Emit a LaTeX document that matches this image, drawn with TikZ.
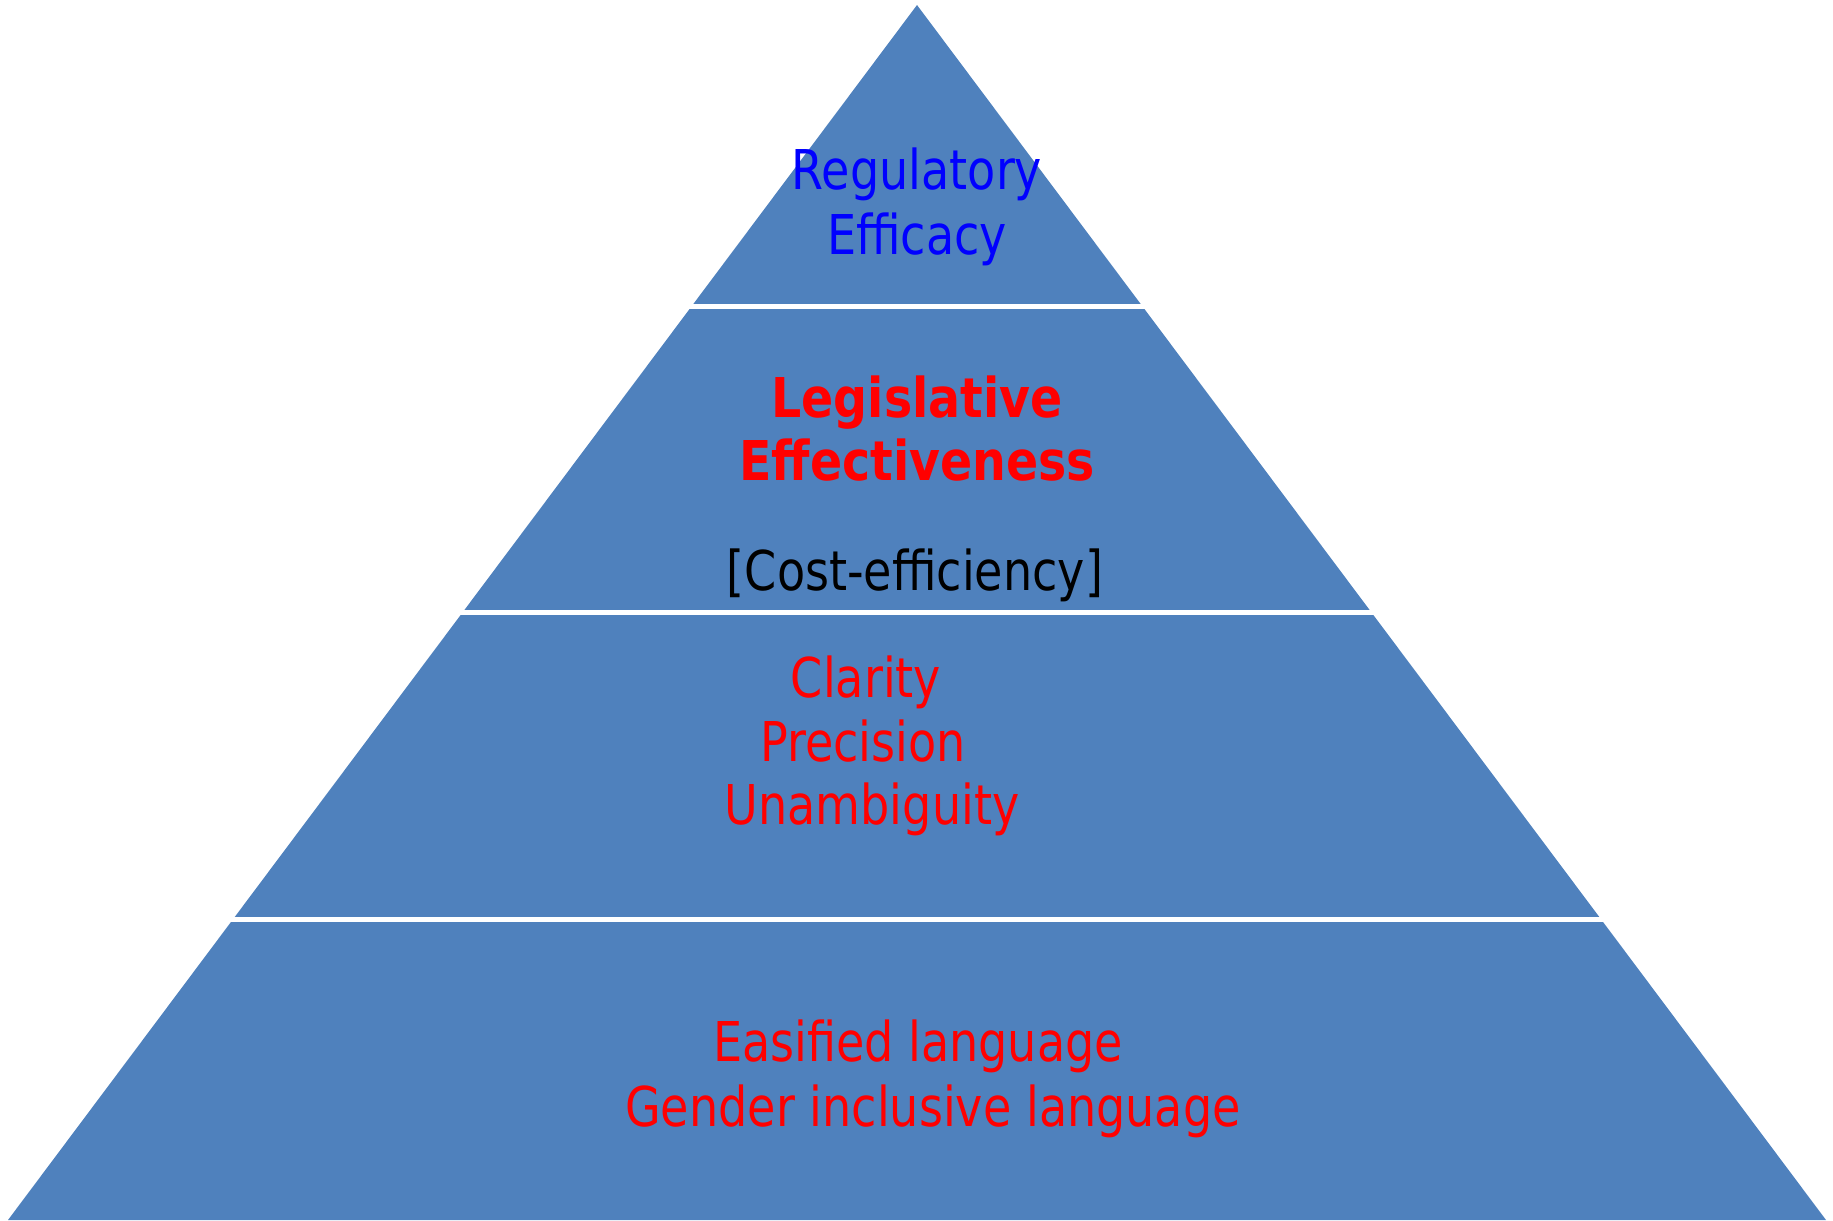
\documentclass[tikz,border=0pt]{standalone}
\usepackage{fontspec}
\setmainfont{DejaVu Sans}[FakeStretch=0.84, BoldFeatures={FakeStretch=0.865}]
\usepackage{tikz}
\usetikzlibrary{positioning}

\definecolor{tierblue}{RGB}{79,129,189}

\tikzset{
    tier/.style={fill=tierblue, draw=none},
    gap/.style={draw=white, line width=0.05cm},
    word/.style={font=\fontsize{15.6}{18.7}\selectfont, inner sep=0pt, anchor=base},
    goal/.style={word, text=blue},
    aim/.style={word, text=red},
    keyaim/.style={word, text=red, font=\fontsize{15.6}{18.7}\selectfont\bfseries},
}

\begin{document}
\begin{tikzpicture}[x=0.01cm, y=-0.01cm]
    \useasboundingbox (0,0) rectangle (1833,1220);

    % Pyramid, cut into four tiers
    \fill[tier] (917,5) -- (1826,1220) -- (8,1220) -- cycle;
    \foreach \y in {306.5, 612.7, 919}
        \draw[gap] (0,\y) -- (1833,\y);

    % Top tier
    \node[goal] (regulatory) at (917,189) {Regulatory};
    \node[goal] (efficacy) at (917,254) {Efficacy};

    % Second tier
    \node[keyaim] (legislative) at (917,417) {Legislative};
    \node[keyaim] (effectiveness) at (917,480) {Effectiveness};
    \node[word] (cost) at (915,590) {[Cost-efficiency]};

    % Third tier
    \node[aim] (clarity) at (866,697) {Clarity};
    \node[aim] (precision) at (863,761) {Precision};
    \node[aim] (unambiguity) at (872,824) {Unambiguity};

    % Base tier
    \node[aim] (easified) at (918,1061) {Easified language};
    \node[aim] (gender) at (933,1126) {Gender inclusive language};
\end{tikzpicture}
\end{document}
